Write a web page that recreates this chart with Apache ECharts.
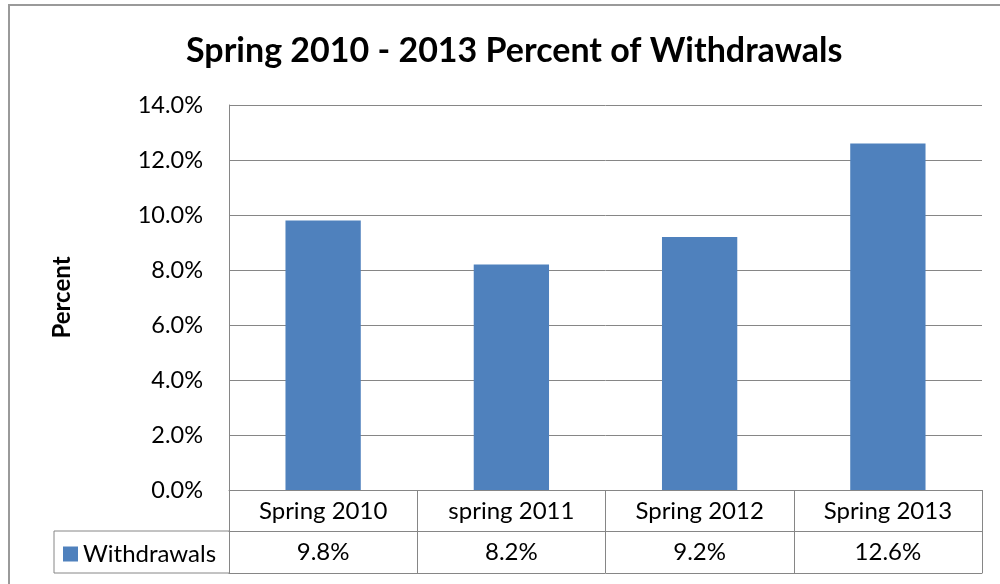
<!DOCTYPE html>
<html>
<head>
<meta charset="utf-8">
<script src="https://cdn.jsdelivr.net/npm/echarts@6/dist/echarts.min.js"></script>
<style>
  html, body { margin: 0; padding: 0; background: #fff; }
  #chart { width: 1000px; height: 584px; }
</style>
</head>
<body>
<div id="chart"></div>
<script>
// data (and its data table)
var categories = ['Spring 2010', 'spring 2011', 'Spring 2012', 'Spring 2013']
var withdrawals = [0.098, 0.082, 0.092, 0.126]
var seriesName = 'Withdrawals'

var gridColor = '#868686'
var fontFamily = 'Lato, "Open Sans", sans-serif'

function pct(v) {
  return (v * 100).toFixed(1) + '%'
}

var chart = echarts.init(document.getElementById('chart'))

var option = {
  backgroundColor: '#fff',
  animation: false,
  textStyle: { fontFamily: fontFamily, color: '#000' },
  title: {
    text: 'Spring 2010 - 2013 Percent of Withdrawals',
    left: 181,
    top: 29,
    textStyle: { fontFamily: fontFamily, fontSize: 34, fontWeight: 'bold', color: '#000' }
  },
  legend: {
    data: [seriesName],
    left: 58,
    top: 537,
    icon: 'rect',
    itemWidth: 15,
    itemHeight: 15,
    textStyle: { fontSize: 24, color: '#000', fontFamily: fontFamily }
  },
  grid: { left: 229, right: 18, top: 105, bottom: 94 },
  xAxis: [
    { // category row of the data table
      type: 'category',
      data: categories,
      position: 'bottom',
      axisLine: { show: true, lineStyle: { color: gridColor, width: 1 } },
      axisTick: { show: true, length: 83, lineStyle: { color: gridColor, width: 1 } },
      axisLabel: { fontSize: 24, color: '#000', margin: 9, fontFamily: fontFamily }
    },
    { // value row of the data table
      type: 'category',
      data: categories,
      position: 'bottom',
      offset: 41,
      axisLine: { show: true, lineStyle: { color: gridColor, width: 1 } },
      axisTick: { show: false },
      axisLabel: {
        fontSize: 24, color: '#000', margin: 9, fontFamily: fontFamily,
        formatter: function (v, i) { return pct(withdrawals[i]) }
      }
    },
    { // bottom edge of the table
      type: 'category',
      data: categories,
      position: 'bottom',
      offset: 83,
      axisLine: { show: true, lineStyle: { color: gridColor, width: 1 } },
      axisTick: { show: false },
      axisLabel: { show: false }
    }
  ],
  yAxis: {
    type: 'value',
    min: 0,
    max: 0.14,
    interval: 0.02,
    name: 'Percent',
    nameLocation: 'middle',
    nameGap: 155,
    nameTextStyle: { fontSize: 24, fontWeight: 'bold', color: '#000', fontFamily: fontFamily },
    axisLine: { show: true, lineStyle: { color: gridColor, width: 1 } },
    axisTick: { show: false },
    axisLabel: { fontSize: 23.5, color: '#000', margin: 26, formatter: pct, fontFamily: fontFamily },
    splitLine: { show: true, lineStyle: { color: gridColor, width: 1 } }
  },
  series: [{
    name: seriesName,
    type: 'bar',
    data: withdrawals,
    barWidth: '40%',
    itemStyle: { color: '#4F81BD' }
  }],
  graphic: [
    { // chart area border
      type: 'rect',
      shape: { x: 9, y: 5, width: 1000, height: 600 },
      style: { fill: 'none', stroke: '#9a9a9a', lineWidth: 2 },
      silent: true
    },
    { // legend cell of the data table
      type: 'polyline',
      shape: { points: [[229, 531], [54, 531], [54, 573], [229, 573]] },
      style: { fill: 'none', stroke: gridColor, lineWidth: 1 },
      silent: true
    }
  ]
}

chart.setOption(option)
</script>
</body>
</html>
